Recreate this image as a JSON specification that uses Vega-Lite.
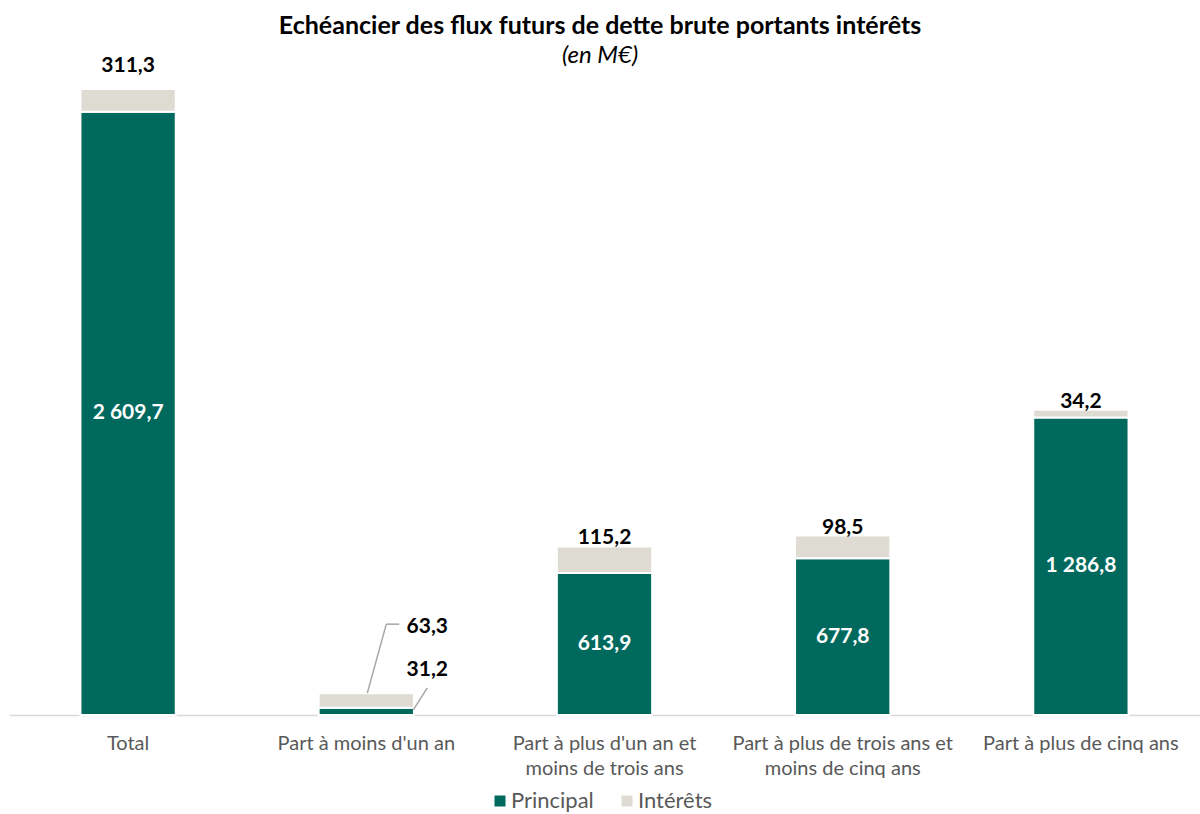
{
  "$schema": "https://vega.github.io/schema/vega-lite/v6.json",
  "width": 1191,
  "height": 626,
  "autosize": "none",
  "padding": {"left": 9, "top": 89, "right": 0, "bottom": 99},
  "background": "white",
  "config": {"view": {"stroke": null}},
  "title": {
    "text": "Echéancier des flux futurs de dette brute portants intérêts",
    "subtitle": "(en M€)",
    "font": "Lato",
    "fontSize": 25,
    "fontWeight": "bold",
    "color": "black",
    "subtitleFont": "Lato",
    "subtitleFontSize": 24,
    "subtitleFontStyle": "italic",
    "subtitleColor": "black",
    "anchor": "middle",
    "offset": -13,
    "subtitlePadding": 5,
    "dx": -4.5
  },
  "data": {
    "values": [
      {"cat": "Total", "serie": "Principal", "value": 2609.7, "label": "2 609,7"},
      {"cat": "Total", "serie": "Intérêts", "value": 311.3, "label": "311,3"},
      {"cat": "Part à moins d'un an", "serie": "Principal", "value": 31.2, "label": "31,2"},
      {"cat": "Part à moins d'un an", "serie": "Intérêts", "value": 63.3, "label": "63,3"},
      {"cat": "Part à plus d'un an et moins de trois ans", "serie": "Principal", "value": 613.9, "label": "613,9"},
      {"cat": "Part à plus d'un an et moins de trois ans", "serie": "Intérêts", "value": 115.2, "label": "115,2"},
      {"cat": "Part à plus de trois ans et moins de cinq ans", "serie": "Principal", "value": 677.8, "label": "677,8"},
      {"cat": "Part à plus de trois ans et moins de cinq ans", "serie": "Intérêts", "value": 98.5, "label": "98,5"},
      {"cat": "Part à plus de cinq ans", "serie": "Principal", "value": 1286.8, "label": "1 286,8"},
      {"cat": "Part à plus de cinq ans", "serie": "Intérêts", "value": 34.2, "label": "34,2"}
    ]
  },
  "transform": [
    {"stack": "value", "groupby": ["cat"], "sort": [{"field": "serie", "order": "descending"}], "as": ["v0", "v1"]}
  ],
  "encoding": {
    "x": {
      "field": "cat",
      "type": "nominal",
      "sort": null,
      "scale": {"paddingInner": 0.6, "paddingOuter": 0.3},
      "axis": {
        "title": null,
        "labelAngle": 0,
        "ticks": false,
        "domainColor": "#D9D9D9",
        "domainWidth": 1.5,
        "labelFont": "Lato",
        "labelFontSize": 20,
        "labelColor": "#595959",
        "labelPadding": 18,
        "labelLineHeight": 25,
        "labelLimit": 400,
        "labelExpr": "datum.label == \"Part à plus d'un an et moins de trois ans\" ? [\"Part à plus d'un an et\", \"moins de trois ans\"] : datum.label == \"Part à plus de trois ans et moins de cinq ans\" ? [\"Part à plus de trois ans et\", \"moins de cinq ans\"] : datum.label"
      }
    }
  },
  "layer": [
    {
      "mark": {"type": "bar", "stroke": "white", "strokeWidth": 2},
      "encoding": {
        "y": {"field": "v1", "type": "quantitative", "scale": {"domain": [0, 2708], "clamp": true, "nice": false}, "axis": null},
        "y2": {"field": "v0"},
        "color": {
          "field": "serie",
          "type": "nominal",
          "scale": {"domain": ["Principal", "Intérêts"], "range": ["#00695E", "#DEDBD2"]},
          "legend": {
            "orient": "none",
            "legendX": 480,
            "legendY": 701,
            "direction": "horizontal",
            "title": null,
            "symbolType": "square",
            "symbolSize": 121,
            "symbolStrokeWidth": 0,
            "labelFont": "Lato",
            "labelFontSize": 22,
            "labelColor": "#595959",
            "columnPadding": 22,
            "labelOffset": 0
          }
        }
      }
    },
    {
      "transform": [
        {"filter": "datum.serie == 'Principal' && datum.cat != \"Part à moins d'un an\""},
        {"calculate": "(datum.v0 + datum.v1) / 2", "as": "mid"}
      ],
      "mark": {"type": "text", "font": "Lato", "fontSize": 21, "fontWeight": "bold", "color": "white", "baseline": "middle"},
      "encoding": {
        "y": {"field": "mid", "type": "quantitative", "scale": {"domain": [0, 2708], "clamp": true, "nice": false}},
        "text": {"field": "label"}
      }
    },
    {
      "transform": [
        {"filter": "datum.serie == 'Intérêts' && datum.cat != 'Total' && datum.cat != \"Part à moins d'un an\""}
      ],
      "mark": {"type": "text", "font": "Lato", "fontSize": 21, "fontWeight": "bold", "color": "black", "baseline": "alphabetic", "dy": -2},
      "encoding": {
        "y": {"field": "v1", "type": "quantitative", "scale": {"domain": [0, 2708], "clamp": true, "nice": false}},
        "text": {"field": "label"}
      }
    },
    {
      "transform": [
        {"filter": "datum.serie == 'Intérêts' && datum.cat == 'Total'"}
      ],
      "mark": {"type": "text", "font": "Lato", "fontSize": 21, "fontWeight": "bold", "color": "black", "baseline": "alphabetic", "dy": -17},
      "encoding": {
        "y": {"field": "v1", "type": "quantitative", "scale": {"domain": [0, 2708], "clamp": true, "nice": false}},
        "text": {"field": "label"}
      }
    },
    {
      "transform": [
        {"filter": "datum.serie == 'Intérêts' && datum.cat == \"Part à moins d'un an\""}
      ],
      "mark": {"type": "text", "font": "Lato", "fontSize": 21, "fontWeight": "bold", "color": "black", "baseline": "middle", "dx": 61, "dy": -66},
      "encoding": {
        "y": {"field": "v1", "type": "quantitative", "scale": {"domain": [0, 2708], "clamp": true, "nice": false}},
        "text": {"field": "label"}
      }
    },
    {
      "transform": [
        {"filter": "datum.serie == 'Principal' && datum.cat == \"Part à moins d'un an\""}
      ],
      "mark": {"type": "text", "font": "Lato", "fontSize": 21, "fontWeight": "bold", "color": "black", "baseline": "middle", "dx": 61, "dy": -38},
      "encoding": {
        "y": {"field": "v1", "type": "quantitative", "scale": {"domain": [0, 2708], "clamp": true, "nice": false}},
        "text": {"field": "label"}
      }
    },
    {
      "transform": [
        {"filter": "datum.serie == 'Intérêts' && datum.cat == \"Part à moins d'un an\""}
      ],
      "mark": {"type": "rule", "color": "#A6A6A6", "strokeWidth": 1.5, "xOffset": 1, "yOffset": 0, "x2Offset": 20, "y2Offset": -69},
      "encoding": {
        "x": {"field": "cat", "type": "nominal", "sort": null, "bandPosition": 0.5},
        "x2": {"field": "cat", "bandPosition": 0.5},
        "y": {"field": "v1", "type": "quantitative", "scale": {"domain": [0, 2708], "clamp": true, "nice": false}},
        "y2": {"field": "v1"}
      }
    },
    {
      "transform": [
        {"filter": "datum.serie == 'Intérêts' && datum.cat == \"Part à moins d'un an\""}
      ],
      "mark": {"type": "rule", "color": "#A6A6A6", "strokeWidth": 1.5, "xOffset": 20, "yOffset": -69, "x2Offset": 33, "y2Offset": -69},
      "encoding": {
        "x": {"field": "cat", "type": "nominal", "sort": null, "bandPosition": 0.5},
        "x2": {"field": "cat", "bandPosition": 0.5},
        "y": {"field": "v1", "type": "quantitative", "scale": {"domain": [0, 2708], "clamp": true, "nice": false}},
        "y2": {"field": "v1"}
      }
    },
    {
      "transform": [
        {"filter": "datum.serie == 'Principal' && datum.cat == \"Part à moins d'un an\""}
      ],
      "mark": {"type": "rule", "color": "#A6A6A6", "strokeWidth": 1.5, "xOffset": 47, "yOffset": 2, "x2Offset": 61, "y2Offset": -20},
      "encoding": {
        "x": {"field": "cat", "type": "nominal", "sort": null, "bandPosition": 0.5},
        "x2": {"field": "cat", "bandPosition": 0.5},
        "y": {"field": "v1", "type": "quantitative", "scale": {"domain": [0, 2708], "clamp": true, "nice": false}},
        "y2": {"field": "v1"}
      }
    }
  ]
}
